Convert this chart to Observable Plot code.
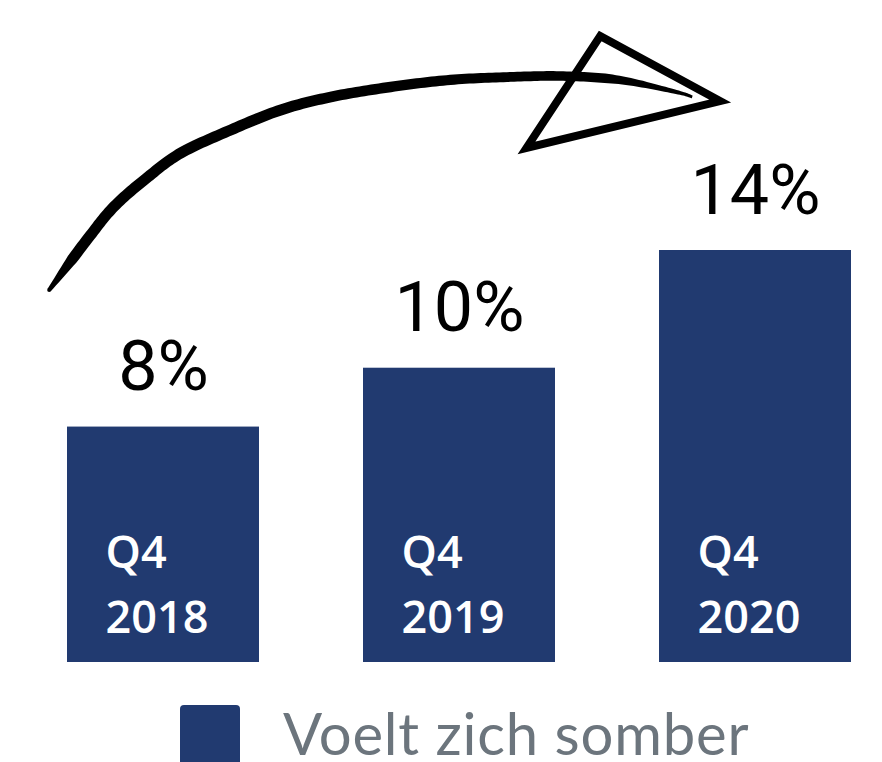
<!DOCTYPE html>
<html>
<head>
<meta charset="utf-8">
<script src="https://cdn.jsdelivr.net/npm/d3@7"></script>
<script src="https://cdn.jsdelivr.net/npm/@observablehq/plot@0.6"></script>
<style>
  body { margin: 0; background: #fff; }
  #wrap { position: relative; width: 882px; height: 762px; overflow: hidden; }
  #legend { position: absolute; left: 0; top: 700px; width: 882px; height: 62px; }
  #legend .sw { position: absolute; left: 180px; top: 5px; width: 60px; height: 60px; border-radius: 4px; background: #213a70; }
  #legend .lb { position: absolute; left: 283px; top: 8px; font-family: Lato, "Open Sans", sans-serif; font-size: 58px; line-height: 50px; letter-spacing: 0.8px; color: #6c757d; white-space: nowrap; }
</style>
</head>
<body>
<div id="wrap"><div id="chart"></div><div id="legend"><div class="sw"></div><div class="lb"></div></div></div>
<script>
// ---- data ----
const categories = ["Q4 2018", "Q4 2019", "Q4 2020"];
const values = [8, 10, 14];
const valueLabels = ["8%", "10%", "14%"];
const barLabels = ["Q4\n2018", "Q4\n2019", "Q4\n2020"];
const seriesName = "Voelt zich somber";
// hand-drawn arrow annotation: u = position in bar units (0 = first bar centre, 1 = second), v = value units (%)
const arrowCurveU = [-0.3845, -0.253, -0.165, -0.051, 0.061, 0.229, 0.398, 0.567, 0.769, 0.971, 1.174, 1.352, 1.541, 1.734, 1.788];
const arrowCurveV = [12.64, 14.40, 15.48, 16.48, 17.30, 18.08, 18.76, 19.20, 19.54, 19.78, 19.88, 19.91, 19.78, 19.37, 19.20];
const arrowHeadU = [1.477, 1.882, 1.228];
const arrowHeadV = [21.27, 19.06, 17.47];

const barColor = "#213a70";
const data = categories.map((c, i) => ({cat: c, value: values[i], label: valueLabels[i], inner: barLabels[i]}));

function arrowMark(index, scales) {
  const sx = scales.x, sy = scales.y;
  const bw = typeof sx.bandwidth === "function" ? sx.bandwidth() : sx.bandwidth;
  const c0 = sx(categories[0]) + bw / 2, c1 = sx(categories[1]) + bw / 2;
  const px = u => c0 + u * (c1 - c0);
  const pts = arrowCurveU.map((u, i) => [px(u), sy(arrowCurveV[i])]);
  // Catmull-Rom densify
  const dense = [];
  for (let i = 0; i < pts.length - 1; i++) {
    const p0 = i === 0 ? [2 * pts[0][0] - pts[1][0], 2 * pts[0][1] - pts[1][1]] : pts[i - 1];
    const p1 = pts[i], p2 = pts[i + 1];
    const p3 = pts[Math.min(pts.length - 1, i + 2)];
    for (let k = 0; k < 16; k++) {
      const t = k / 16, t2 = t * t, t3 = t2 * t;
      const f = j => 0.5 * (2 * p1[j] + (-p0[j] + p2[j]) * t + (2 * p0[j] - 5 * p1[j] + 4 * p2[j] - p3[j]) * t2 + (-p0[j] + 3 * p1[j] - 3 * p2[j] + p3[j]) * t3);
      dense.push([f(0), f(1)]);
    }
  }
  dense.push(pts[pts.length - 1]);
  const n = dense.length;
  const cum = [0];
  for (let i = 1; i < n; i++) cum.push(cum[i - 1] + Math.hypot(dense[i][0] - dense[i - 1][0], dense[i][1] - dense[i - 1][1]));
  const total = cum[n - 1];
  const left = [], right = [];
  for (let i = 0; i < n; i++) {
    const a = dense[Math.max(0, i - 1)], b = dense[Math.min(n - 1, i + 1)];
    let dx = b[0] - a[0], dy = b[1] - a[1];
    const len = Math.hypot(dx, dy) || 1; dx /= len; dy /= len;
    const d = cum[i], r = total - d;
    let w = 4 + 7 * Math.min(1, d / 40);
    if (d > 300) w -= Math.min(1.5, (d - 300) / 200);
    if (r < 90) w *= 0.3 + 0.7 * (r / 90);
    const h = w / 2;
    left.push([dense[i][0] - dy * h, dense[i][1] + dx * h]);
    right.push([dense[i][0] + dy * h, dense[i][1] - dx * h]);
  }
  const poly = left.concat(right.reverse());
  const g = d3.create("svg:g");
  g.append("path").attr("d", "M" + poly.map(p => p.join(",")).join("L") + "Z").attr("fill", "#000");
  g.append("circle").attr("cx", dense[0][0]).attr("cy", dense[0][1]).attr("r", 2).attr("fill", "#000");
  const head = arrowHeadU.map((u, i) => [px(u), sy(arrowHeadV[i])]);
  g.append("path").attr("d", "M" + head.map(p => p.join(",")).join("L") + "Z")
    .attr("fill", "none").attr("stroke", "#000").attr("stroke-width", 8)
    .attr("stroke-linejoin", "miter").attr("stroke-miterlimit", 10);
  return g.node();
}

const chart = Plot.plot({
  width: 882,
  height: 700,
  marginTop: 250,
  marginBottom: 38,
  marginLeft: 66,
  marginRight: 31,
  style: {background: "#fff", overflow: "visible"},
  x: {axis: null, domain: categories, paddingInner: 0.352, paddingOuter: 0},
  y: {axis: null, domain: [0, 14]},
  marks: [
    Plot.barY(data, {x: "cat", y: "value", fill: barColor}),
    Plot.text(data, {x: "cat", y: "value", text: "label", lineAnchor: "bottom", dy: -37,
      fontSize: 70, fontWeight: 400, fontFamily: "Roboto, 'Open Sans', sans-serif", fill: "#000"}),
    Plot.text(data, {x: "cat", y: () => 0, text: "inner", textAnchor: "start", lineAnchor: "bottom",
      lineHeight: 1.444, dx: -58, dy: -30, fontSize: 45, fontWeight: 600, fontFamily: "'Open Sans', Lato, sans-serif", fill: "#fff"}),
    arrowMark
  ]
});
document.getElementById("chart").appendChild(chart);
document.querySelector("#legend .lb").textContent = seriesName;
document.querySelector("#legend .sw").style.background = barColor;
</script>
</body>
</html>
